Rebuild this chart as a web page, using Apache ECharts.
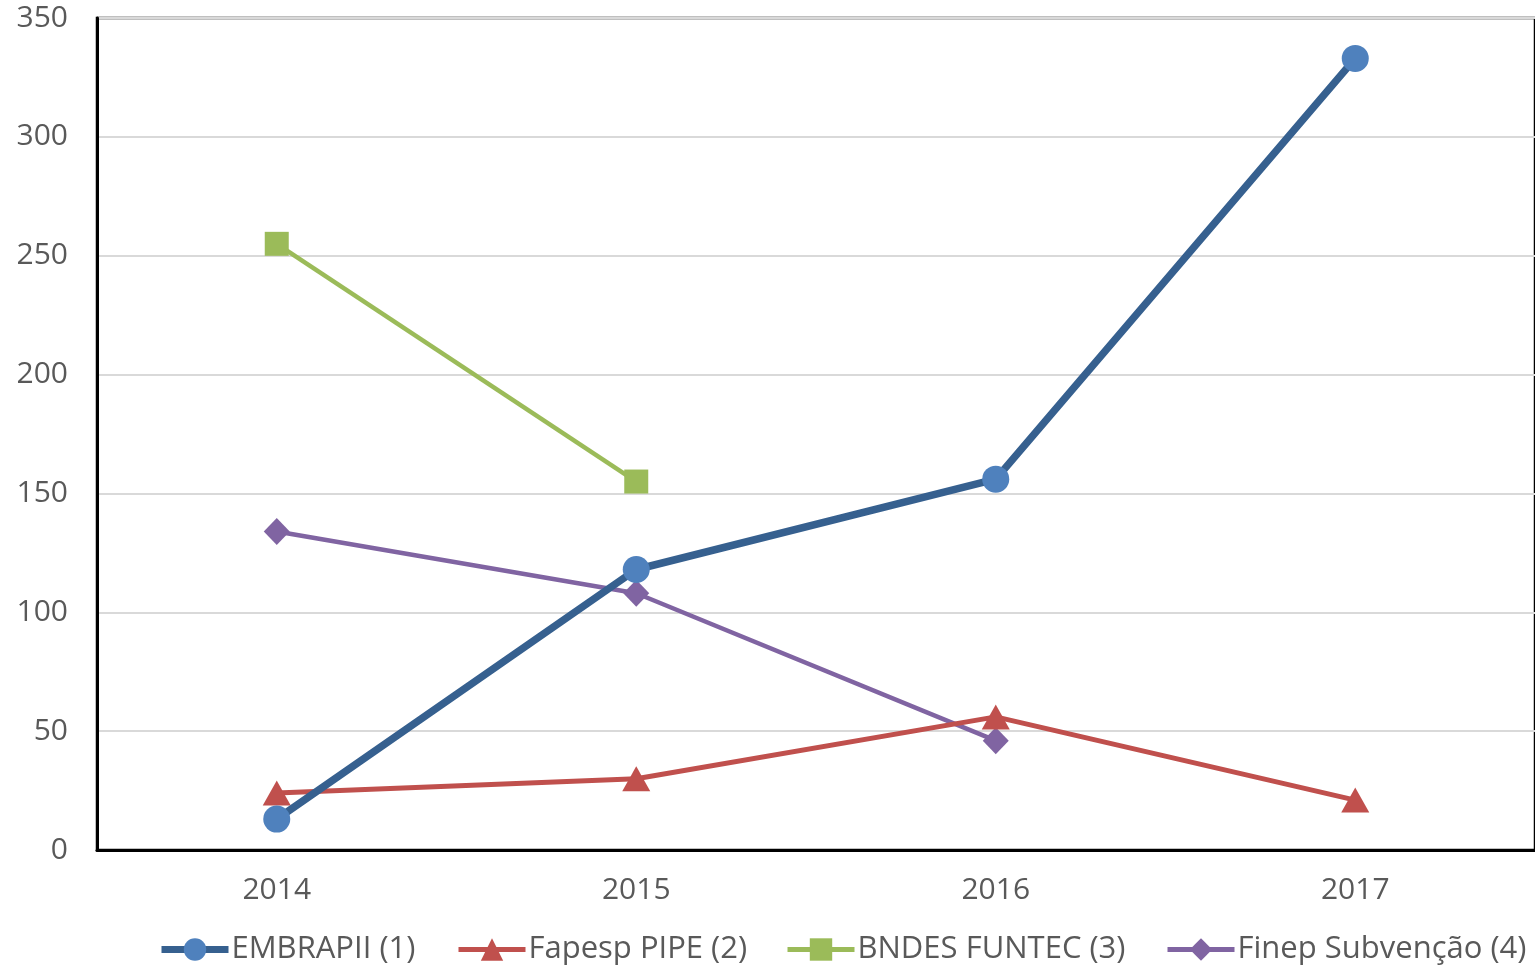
<!DOCTYPE html>
<html>
<head>
<meta charset="utf-8">
<script src="https://cdn.jsdelivr.net/npm/echarts@6/dist/echarts.min.js"></script>
<style>
html,body{margin:0;padding:0;background:#fff;}
#chart{width:1535px;height:970px;}
</style>
</head>
<body>
<div id="chart"></div>
<script>
const categories = ['2014', '2015', '2016', '2017'];
const embrapii = [13, 118, 156, 333];
const fapesp = [24, 30, 56, 21];
const bndes = [255, 155, null, null];
const finep = [134, 108, 46, null];
const seriesNames = ['EMBRAPII (1)', 'Fapesp PIPE (2)', 'BNDES FUNTEC (3)', 'Finep Subvenção (4)'];
const yTicks = {min: 0, max: 350, interval: 50};

const FONT = 'Open Sans';
const TEXT = '#595959';

const colors = {
  embLine: '#36608F', embMark: '#4F81BD',
  fap: '#C0504D', bnd: '#9BBB59', fin: '#8064A2'
};

const legendLeft = [158, 456, 785, 1165];
const legendLine = [
  {width: 7, color: colors.embLine},
  {width: 5, color: colors.fap},
  {width: 5, color: colors.bnd},
  {width: 5, color: colors.fin}
];
const legends = seriesNames.map((n, i) => ({
  left: legendLeft[i], top: 934, padding: 0,
  itemWidth: 67, itemHeight: 28, itemGap: 0,
  textStyle: {fontFamily: FONT, fontSize: 31, color: TEXT, padding: [0,0,0,-2]},
  data: [{name: n, lineStyle: legendLine[i]}]
}));

const chart = echarts.init(document.getElementById('chart'), null, {renderer: 'canvas'});
chart.setOption({
  animation: false,
  backgroundColor: '#fff',
  grid: {
    left: 97, top: 18, width: 1442, height: 832,
    show: true, borderColor: '#000', borderWidth: 2.5, backgroundColor: 'transparent'
  },
  legend: legends,
  xAxis: {
    type: 'category',
    data: categories,
    boundaryGap: true,
    axisLine: {show: true, lineStyle: {color: '#000', width: 3}},
    axisTick: {show: false},
    axisLabel: {fontFamily: FONT, fontSize: 30, color: TEXT, margin: 25},
    splitLine: {show: false}
  },
  yAxis: {
    type: 'value',
    min: yTicks.min, max: yTicks.max, interval: yTicks.interval,
    axisLine: {show: true, lineStyle: {color: '#000', width: 3}},
    axisTick: {show: false},
    axisLabel: {fontFamily: FONT, fontSize: 30, color: TEXT, margin: 29},
    splitLine: {show: true, lineStyle: {color: '#D9D9D9', width: 2}}
  },
  series: [
    {
      name: seriesNames[0], type: 'line', data: embrapii,
      symbol: 'circle', symbolSize: 27,
      lineStyle: {color: colors.embLine, width: 7.5},
      itemStyle: {color: colors.embMark, borderWidth: 0},
      z: 5
    },
    {
      name: seriesNames[1], type: 'line', data: fapesp,
      symbol: 'triangle', symbolSize: [28, 25],
      lineStyle: {color: colors.fap, width: 5},
      itemStyle: {color: colors.fap, borderWidth: 0},
      z: 4
    },
    {
      name: seriesNames[2], type: 'line', data: bndes,
      symbol: 'rect', symbolSize: 24,
      lineStyle: {color: colors.bnd, width: 4.5},
      itemStyle: {color: colors.bnd, borderWidth: 0},
      z: 3
    },
    {
      name: seriesNames[3], type: 'line', data: finep,
      symbol: 'diamond', symbolSize: [26, 27],
      lineStyle: {color: colors.fin, width: 4.5},
      itemStyle: {color: colors.fin, borderWidth: 0},
      z: 3
    }
  ]
});
</script>
</body>
</html>
